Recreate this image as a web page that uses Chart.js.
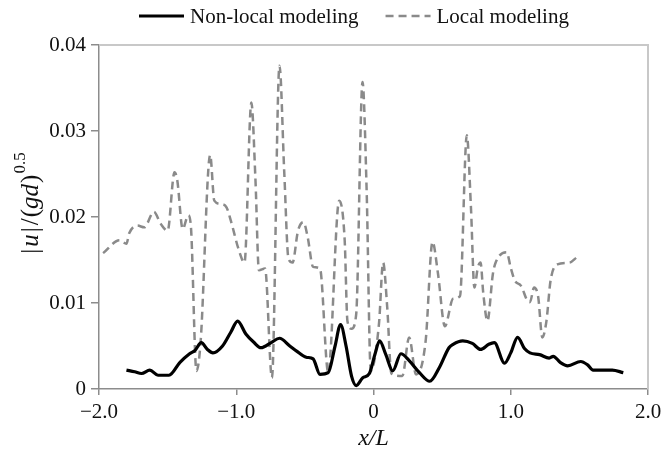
<!DOCTYPE html>
<html>
<head>
<meta charset="utf-8">
<script src="https://cdn.jsdelivr.net/npm/chart.js@4"></script>
<style>
  html, body { margin: 0; padding: 0; background: #fff; }
  #wrap { width: 662px; height: 453px; }
</style>
</head>
<body>
<div id="wrap"><canvas id="velChart" width="662" height="453"></canvas></div>
<script>
const serif = "'Liberation Serif', 'Times New Roman', serif";

// x/L positions and |u|/(gd)^0.5 for each model
const nonLocalX = [-1.80, -1.74, -1.69, -1.63, -1.57, -1.49, -1.41, -1.34, -1.30, -1.255,
  -1.21, -1.17, -1.10, -1.04, -0.99, -0.93, -0.87, -0.82, -0.745, -0.685,
  -0.61, -0.56, -0.49, -0.44, -0.39, -0.33, -0.28, -0.24, -0.20, -0.16,
  -0.126, -0.078, -0.03, 0.01, 0.044, 0.09, 0.14, 0.20, 0.26, 0.335,
  0.41, 0.48, 0.55, 0.58, 0.65, 0.72, 0.78, 0.84, 0.88, 0.955,
  1.00, 1.05, 1.10, 1.14, 1.21, 1.28, 1.31, 1.36, 1.415, 1.51,
  1.56, 1.60, 1.67, 1.74, 1.82];
const nonLocalY = [0.0022, 0.0020, 0.0018, 0.0022, 0.0016, 0.0016, 0.0031, 0.0041, 0.0045, 0.0054,
  0.0046, 0.0042, 0.0050, 0.0066, 0.0079, 0.0064, 0.0054, 0.0048, 0.0054, 0.0059,
  0.0050, 0.0044, 0.0037, 0.0035, 0.0017, 0.0019, 0.0050, 0.0075, 0.0050, 0.0015,
  0.0004, 0.0013, 0.0018, 0.0040, 0.0056, 0.0040, 0.0021, 0.0041, 0.0033, 0.0019,
  0.0009, 0.0025, 0.0048, 0.0052, 0.0056, 0.0053, 0.0046, 0.0052, 0.0054, 0.0030,
  0.0042, 0.0060, 0.0047, 0.0042, 0.0040, 0.0036, 0.0038, 0.0031, 0.0027, 0.0032,
  0.0028, 0.0022, 0.0022, 0.0022, 0.0019];

const localX = [-1.97, -1.85, -1.80, -1.78, -1.72, -1.67, -1.60, -1.55, -1.50, -1.45,
  -1.43, -1.39, -1.35, -1.33, -1.29, -1.26, -1.19, -1.16, -1.11, -1.07,
  -1.04, -0.98, -0.94, -0.89, -0.86, -0.835, -0.79, -0.74, -0.685, -0.65,
  -0.62, -0.59, -0.55, -0.51, -0.48, -0.44, -0.39, -0.33, -0.25, -0.21,
  -0.19, -0.16, -0.126, -0.08, -0.05, -0.02, 0.04, 0.07, 0.10, 0.13,
  0.21, 0.26, 0.31, 0.38, 0.43, 0.47, 0.52, 0.58, 0.63, 0.68,
  0.71, 0.735, 0.76, 0.78, 0.80, 0.83, 0.87, 0.89, 0.97, 1.00,
  1.03, 1.075, 1.12, 1.14, 1.17, 1.20, 1.23, 1.26, 1.29, 1.34,
  1.43, 1.48];
const localY = [0.0158, 0.0173, 0.0169, 0.0181, 0.0190, 0.0188, 0.0206, 0.0192, 0.0184, 0.0252,
  0.0243, 0.0186, 0.0202, 0.0188, 0.0021, 0.0054, 0.0272, 0.0219, 0.0215, 0.0211,
  0.0196, 0.0161, 0.0147, 0.0333, 0.0243, 0.0138, 0.0140, 0.0013, 0.0376, 0.0251,
  0.0152, 0.0147, 0.0184, 0.0194, 0.0177, 0.0142, 0.0140, 0.0019, 0.0219, 0.0173,
  0.0079, 0.0070, 0.0087, 0.0357, 0.0231, 0.0021, 0.0076, 0.0147, 0.0095, 0.0018,
  0.0015, 0.0060, 0.0017, 0.0056, 0.0171, 0.0134, 0.0073, 0.0105, 0.0108, 0.0295,
  0.0211, 0.0118, 0.0141, 0.0147, 0.0111, 0.0079, 0.0134, 0.0147, 0.0159, 0.0141,
  0.0126, 0.0120, 0.0103, 0.0101, 0.0118, 0.0107, 0.0060, 0.0079, 0.0126, 0.0145,
  0.0147, 0.0153];

const xTicks = [-2, -1, 0, 1, 2];
const yTicks = [0, 0.01, 0.02, 0.03, 0.04];

function toPoints(xs, ys) {
  return xs.map((x, i) => ({ x: x, y: ys[i] }));
}

// light frame on top and right of the plot
const frame = {
  id: 'frame',
  beforeDatasetsDraw(chart) {
    const { ctx, chartArea: a } = chart;
    ctx.save();
    ctx.strokeStyle = '#c8c8c8';
    ctx.lineWidth = 2;
    ctx.beginPath();
    ctx.moveTo(a.left, a.top);
    ctx.lineTo(a.right, a.top);
    ctx.lineTo(a.right, a.bottom);
    ctx.stroke();
    ctx.restore();
  }
};

// y title with italics and superscript
const yTitle = {
  id: 'yTitle',
  afterDraw(chart) {
    const ctx = chart.ctx;
    const main = '25px ' + serif, ital = 'italic 25px ' + serif;
    const parts = [
      { t: '|', f: main, dy: 0, gap: 2 },
      { t: 'u', f: ital, dy: 0, gap: 2 },
      { t: '|', f: main, dy: 0, gap: 2 },
      { t: '/', f: main, dy: 0, gap: 1 },
      { t: '(', f: main, dy: 0, gap: 0 },
      { t: 'gd', f: ital, dy: 0, gap: 1 },
      { t: ')', f: main, dy: 0, gap: 1 },
      { t: '0.5', f: '17px ' + serif, dy: -10, gap: 0 }
    ];
    let total = 0;
    parts.forEach(p => { ctx.font = p.f; p.w = ctx.measureText(p.t).width; total += p.w + p.gap; });
    ctx.save();
    ctx.translate(31, 203);
    ctx.rotate(-Math.PI / 2);
    ctx.fillStyle = '#111';
    ctx.textBaseline = 'middle';
    let x = -total / 2;
    parts.forEach(p => {
      ctx.font = p.f;
      ctx.fillText(p.t, x, p.dy);
      x += p.w + p.gap;
    });
    ctx.restore();
  }
};

// legend: line samples followed by labels
const lineLegend = {
  id: 'lineLegend',
  afterDraw(chart) {
    const ctx = chart.ctx;
    const y = 16;
    ctx.save();
    ctx.font = '21px ' + serif;
    ctx.textBaseline = 'middle';
    ctx.fillStyle = '#111';
    let x = 139;
    chart.data.datasets.forEach(ds => {
      ctx.strokeStyle = ds.borderColor;
      ctx.lineWidth = ds.borderWidth;
      ctx.setLineDash(ds.borderDash || []);
      ctx.beginPath();
      ctx.moveTo(x, y);
      ctx.lineTo(x + 45, y);
      ctx.stroke();
      ctx.setLineDash([]);
      ctx.fillText(ds.label, x + 51, y + 1);
      x += 51 + ctx.measureText(ds.label).width + 27;
    });
    ctx.restore();
  }
};

const ctx = document.getElementById('velChart').getContext('2d');
new Chart(ctx, {
  type: 'line',
  data: {
    datasets: [
      {
        label: 'Non-local modeling',
        data: toPoints(nonLocalX, nonLocalY),
        borderColor: '#000000',
        borderWidth: 3.2,
        pointRadius: 0,
        cubicInterpolationMode: 'monotone',
        fill: false
      },
      {
        label: 'Local modeling',
        data: toPoints(localX, localY),
        borderColor: '#8a8a8a',
        borderWidth: 2.5,
        borderDash: [8, 5],
        pointRadius: 0,
        cubicInterpolationMode: 'monotone',
        fill: false
      }
    ]
  },
  options: {
    responsive: false,
    animation: false,
    devicePixelRatio: 1,
    layout: { padding: { top: 45, right: 14, left: 0, bottom: 0 } },
    plugins: {
      legend: { display: false },
      tooltip: { enabled: false }
    },
    scales: {
      x: {
        type: 'linear',
        min: -2,
        max: 2,
        afterBuildTicks(scale) { scale.ticks = xTicks.map(v => ({ value: v })); },
        afterFit(scale) {
          scale.height = 64;
          scale.paddingLeft = 0;
          scale.paddingRight = 0;
        },
        grid: { drawOnChartArea: false, color: '#8c8c8c', tickLength: 6, lineWidth: 1.5 },
        border: { color: '#8c8c8c', width: 1.5 },
        ticks: {
          color: '#111',
          padding: 5,
          maxRotation: 0,
          font: { family: serif, size: 21 },
          callback: v => v === 0 ? '0' : (v < 0 ? '\u2212' : '') + Math.abs(v).toFixed(1)
        },
        title: {
          display: true,
          text: 'x/L',
          color: '#111',
          padding: { top: 0, bottom: 0 },
          font: { family: serif, size: 24, style: 'italic' }
        }
      },
      y: {
        min: 0,
        max: 0.04,
        afterBuildTicks(scale) { scale.ticks = yTicks.map(v => ({ value: v })); },
        afterFit(scale) { scale.width = 99; },
        grid: { drawOnChartArea: false, color: '#8c8c8c', tickLength: 8, lineWidth: 1.5 },
        border: { color: '#8c8c8c', width: 1.5 },
        ticks: {
          color: '#111',
          padding: 5,
          font: { family: serif, size: 21 },
          callback: v => v === 0 ? '0' : v.toFixed(2)
        }
      }
    }
  },
  plugins: [frame, yTitle, lineLegend]
});
</script>
</body>
</html>
